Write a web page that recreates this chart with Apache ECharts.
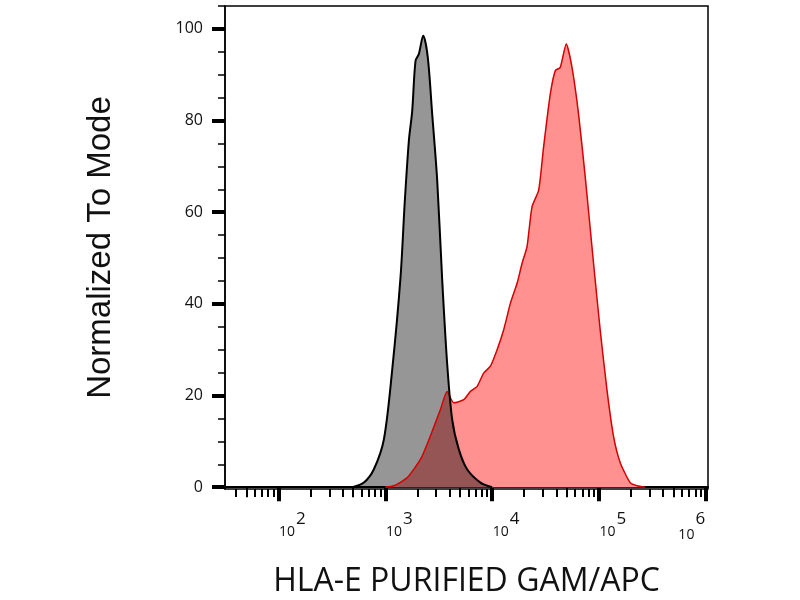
<!DOCTYPE html>
<html>
<head>
    <meta charset="utf-8">
    <title>HLA-E histogram</title>
    <script src="https://cdn.jsdelivr.net/npm/echarts@6/dist/echarts.min.js"></script>
    <style>
        html, body { margin: 0; padding: 0; background: #fff; }
        #chart { width: 800px; height: 600px; }
    </style>
</head>
<body>
<div id="chart"></div>
<script>
    // control (grey) histogram: fluorescence intensity / % of mode
    var ctrlX = [492, 631, 782, 970, 1161, 1390, 1520, 1663, 1786, 1919, 2061, 2265, 2500, 2748, 3062, 3412, 3793, 4227, 4875, 5834, 7780, 10000];
    var ctrlY = [0, 1, 3.9, 10.4, 25.6, 45.9, 62, 75.6, 82, 93, 94.5, 98.5, 93.8, 81.5, 67, 45.2, 27.1, 14.8, 8.3, 3.9, 1, 0];

    // stained (red) histogram
    var hlaX = [1000, 1202, 1607, 2138, 2649, 3289, 3793, 4375, 5433, 6266, 7244, 8337, 9638, 11140, 12820, 14830, 17140, 19060, 21230, 23660, 27290, 30340, 35080, 39080, 43450, 49430, 55980, 64420, 74470, 89130, 102800, 118900, 136800, 158100, 195900, 228000, 271000];
    var hlaY = [0, 0.3, 2.1, 6.1, 11.2, 17, 20.9, 18.4, 19.1, 20.9, 22, 24.9, 26.4, 30, 34.3, 40.1, 44.5, 48.8, 52.5, 61.2, 64.8, 74.2, 85.8, 90.9, 91.6, 96.7, 91.6, 81.5, 67.7, 48.8, 34.3, 21.3, 11.2, 5.4, 1, 0.3, 0];

    // axis ticks
    var xMajor = [100, 1000, 10000, 100000, 1000000];
    var xMid = [50, 500, 5000, 50000, 500000];
    var xMinor = [40, 60, 70, 80, 90, 200, 300, 400, 600, 700, 800, 900, 2000, 3000, 4000, 6000, 7000, 8000, 9000,
        20000, 30000, 40000, 60000, 70000, 80000, 90000, 200000, 300000, 400000, 600000, 700000, 800000, 900000];
    var yMajor = [0, 20, 40, 60, 80, 100];
    var yMinor = [5, 10, 15, 25, 30, 35, 45, 50, 55, 65, 70, 75, 85, 90, 95, 105];

    function pairs(xs, ys) {
        return xs.map(function (x, i) { return [x, ys[i]]; });
    }

    var xMin = 31.6, xMax = 1050000;
    var font = '"Open Sans", sans-serif';

    function xAxisBase(ticks, len, w) {
        return {
            type: 'log', logBase: 10, min: xMin, max: xMax, position: 'bottom',
            axisLine: { show: false },
            axisTick: { show: true, customValues: ticks, length: len, lineStyle: { color: '#000', width: w } },
            axisLabel: { show: false },
            splitLine: { show: false }
        };
    }
    function yAxisBase(ticks, len, w) {
        return {
            type: 'value', min: -0.4, max: 105, position: 'left',
            axisLine: { show: false },
            axisTick: { show: true, customValues: ticks, length: len, lineStyle: { color: '#000', width: w } },
            axisLabel: { show: false },
            splitLine: { show: false }
        };
    }

    var xMain = xAxisBase(xMajor, 14, 4);
    xMain.axisLine = { show: true, lineStyle: { color: '#000', width: 2 } };
    xMain.axisLabel = {
        show: true, customValues: xMajor, margin: 22, align: 'center',
        formatter: function (v) {
            var n = Math.round(Math.log10(v));
            return n === 6 ? '{b|10}{el|' + n + '}' : '{bl|10}{e|' + n + '}';
        },
        rich: {
            b: { fontFamily: font, fontSize: 14, color: '#111', verticalAlign: 'bottom' },
            bl: { fontFamily: font, fontSize: 14, color: '#111', verticalAlign: 'bottom', padding: [0, 0, 0, 28] },
            e: { fontFamily: font, fontSize: 17, color: '#111', verticalAlign: 'bottom', padding: [0, 0, 11, 1] },
            el: { fontFamily: font, fontSize: 17, color: '#111', verticalAlign: 'bottom', padding: [0, 28, 14, 1] }
        }
    };
    xMain.name = 'HLA-E PURIFIED GAM/APC';
    xMain.nameLocation = 'middle';
    xMain.nameGap = 77;
    xMain.nameTextStyle = { fontFamily: font, fontSize: 32, color: '#111' };

    var yMain = yAxisBase(yMajor, 13, 4);
    yMain.axisLine = { show: true, lineStyle: { color: '#000', width: 1.5 } };
    yMain.axisLabel = { show: true, customValues: yMajor, margin: 22, fontFamily: font, fontSize: 16, fontWeight: 500, color: '#111' };
    yMain.name = 'Normalized To Mode';
    yMain.nameLocation = 'middle';
    yMain.nameGap = 108;
    yMain.nameTextStyle = { fontFamily: '"Liberation Sans", Arial, sans-serif', fontSize: 33, color: '#111' };

    var chart = echarts.init(document.getElementById('chart'));
    chart.setOption({
        animation: false,
        grid: {
            left: 225, right: 92, top: 6, bottom: 111, outerBoundsMode: 'none',
            show: true, borderColor: '#000', borderWidth: 1.5, backgroundColor: 'transparent'
        },
        xAxis: [xMain, xAxisBase(xMid, 10, 2), xAxisBase(xMinor, 8, 2)],
        yAxis: [yMain, yAxisBase(yMinor, 7, 1.5)],
        series: [
            {
                name: 'HLA-E', type: 'line', showSymbol: false, smooth: 0.2, xAxisIndex: 0, yAxisIndex: 0,
                data: pairs(hlaX, hlaY),
                lineStyle: { color: '#d40000', width: 1.5 },
                areaStyle: { color: '#ff9191', opacity: 1 }
            },
            {
                name: 'Control', type: 'line', showSymbol: false, smooth: 0.3, xAxisIndex: 0, yAxisIndex: 0,
                data: pairs(ctrlX, ctrlY),
                lineStyle: { color: '#000', width: 2 },
                areaStyle: { color: 'rgba(0,0,0,0.41)', opacity: 1 }
            }
        ]
    });
</script>
</body>
</html>
